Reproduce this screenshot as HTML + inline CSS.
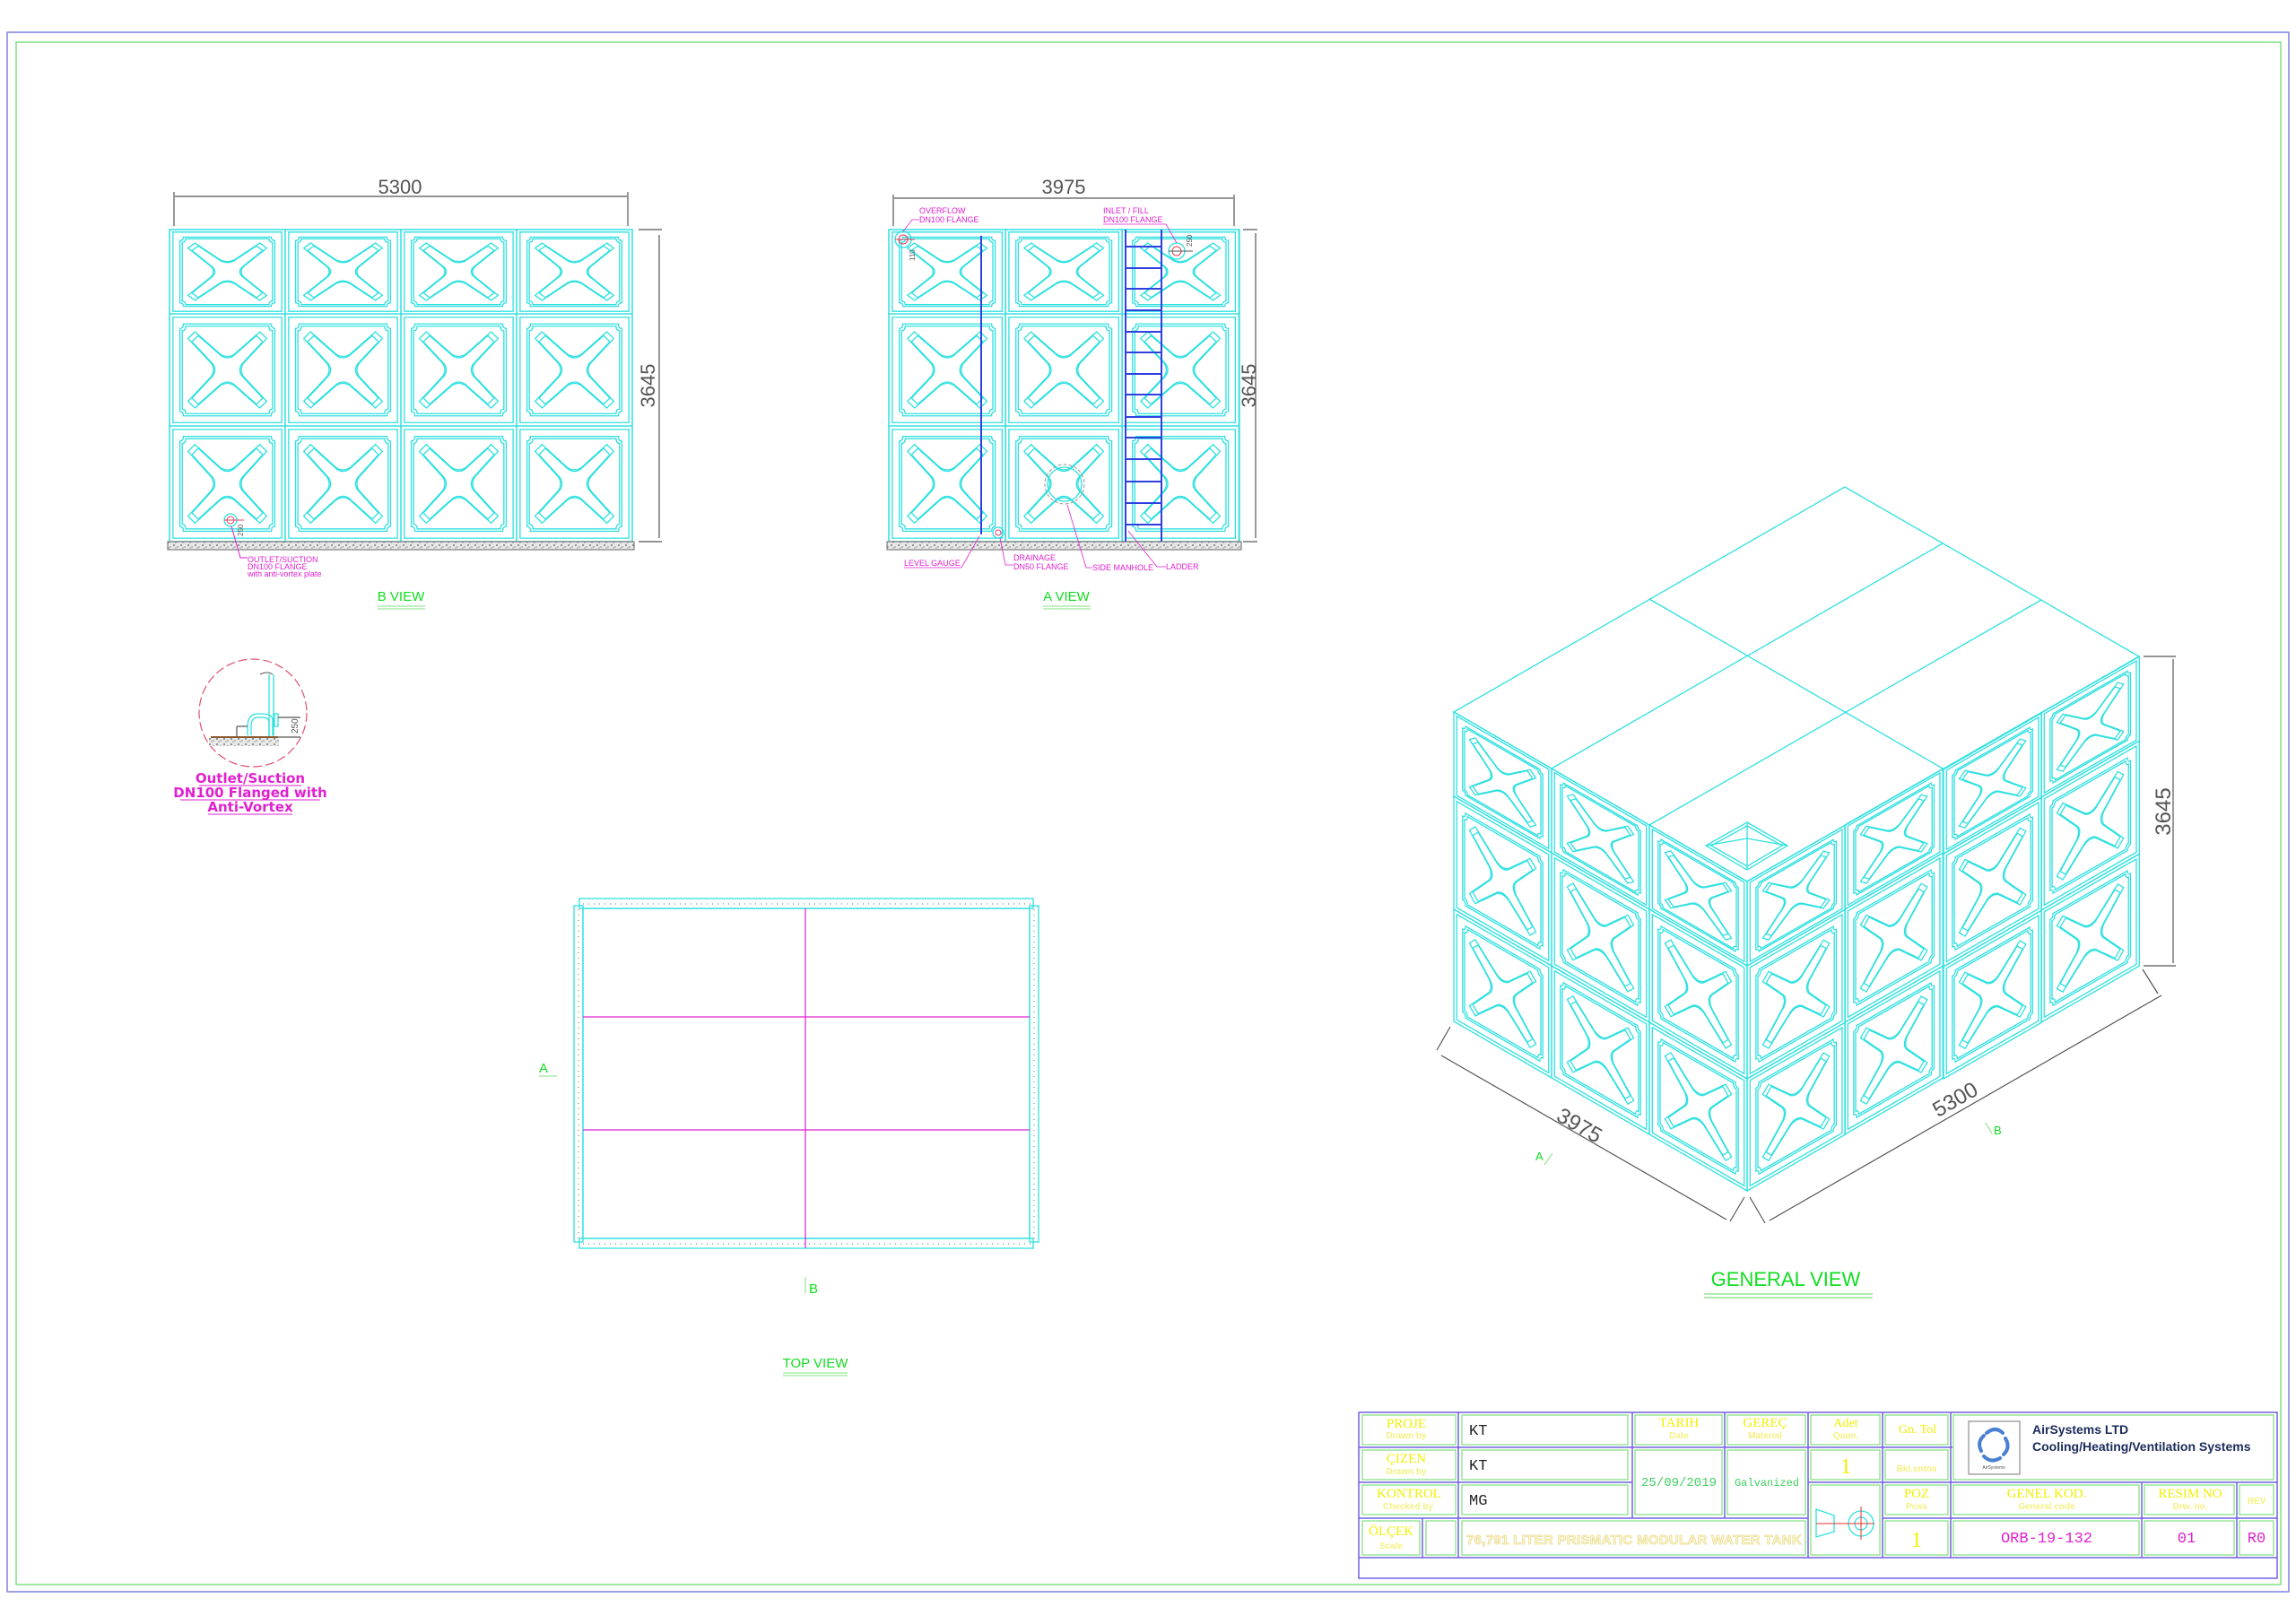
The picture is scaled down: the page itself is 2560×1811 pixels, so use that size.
<!DOCTYPE html>
<html><head><meta charset="utf-8"><style>
html,body{margin:0;padding:0;background:#fff;}
svg{display:block;}
text{font-family:"Liberation Sans",sans-serif;}
.c{fill:none;stroke:#30e0e0;stroke-width:1.3;}
.d{fill:none;stroke:#555;stroke-width:1.2;}
.m{fill:#e020d0;font-size:9px;}
.g{fill:#10dd20;}
.y{fill:#f0f000;font-family:"Liberation Serif",serif;}
.ys{fill:#f4f080;font-family:"Liberation Sans",sans-serif;font-weight:bold;}
.bl{stroke:#7060e0;stroke-width:1.5;fill:none;}
.gr{stroke:#80e080;stroke-width:1.2;fill:none;}
</style></head><body>
<svg width="2560" height="1811" viewBox="0 0 2560 1811" xmlns="http://www.w3.org/2000/svg">
<defs>
<g id="p">
<rect x="0" y="0" width="100" height="100" class="c" vector-effect="non-scaling-stroke"/>
<rect x="3" y="3" width="94" height="94" class="c" vector-effect="non-scaling-stroke"/>
<path d="M12 9 H88 Q88 13 91 13 V87 Q88 87 88 91 H12 Q12 87 9 87 V13 Q12 13 12 9 Z" class="c" vector-effect="non-scaling-stroke"/>
<path d="M14 11 H86 Q86 15 89 15 V85 Q86 85 86 89 H14 Q14 85 11 85 V15 Q14 15 14 11 Z" class="c" vector-effect="non-scaling-stroke"/>
<path d="M16 22 L22 16 L44 36 Q50 40 56 36 L78 16 L84 22 L64 44 Q60 50 64 56 L84 78 L78 84 L56 64 Q50 60 44 64 L22 84 L16 78 L36 56 Q40 50 36 44 Z" class="c" vector-effect="non-scaling-stroke"/>
<path d="M16 22 L22 16 L44 36 Q50 40 56 36 L78 16 L84 22 L64 44 Q60 50 64 56 L84 78 L78 84 L56 64 Q50 60 44 64 L22 84 L16 78 L36 56 Q40 50 36 44 Z" class="c" vector-effect="non-scaling-stroke" transform="translate(50 50) scale(0.9) translate(-50 -50)"/>
</g>
<pattern id="gv" width="8" height="6" patternUnits="userSpaceOnUse">
<rect width="8" height="6" fill="#e8e8e8"/>
<circle cx="2" cy="2" r="0.9" fill="#555"/><circle cx="6" cy="4" r="0.7" fill="#777"/><circle cx="4" cy="5" r="0.5" fill="#333"/>
</pattern>
</defs>

<!-- page borders -->
<rect x="8" y="36" width="2544" height="1739" fill="none" stroke="#8080e0" stroke-width="1.5"/>
<rect x="18" y="47" width="2525" height="1720" fill="none" stroke="#80e080" stroke-width="1.5"/>

<!-- ============ B VIEW ============ -->
<g>
<line x1="195" y1="219" x2="699" y2="219" class="d"/>
<line x1="194" y1="214" x2="194" y2="252" class="d"/>
<line x1="700" y1="214" x2="700" y2="252" class="d"/>
<text x="446" y="216" font-size="22" fill="#555" text-anchor="middle">5300</text>
<line x1="712" y1="256" x2="738" y2="256" class="d"/>
<line x1="712" y1="604" x2="738" y2="604" class="d"/>
<line x1="735" y1="262" x2="735" y2="600" class="d"/>
<text x="0" y="0" font-size="22" fill="#555" text-anchor="middle" transform="translate(730 430) rotate(-90)">3645</text>
<rect x="189" y="256" width="516" height="348" class="c"/>
<use href="#p" transform="matrix(1.29,0,0,0.94,189,256)"/>
<use href="#p" transform="matrix(1.29,0,0,0.94,318,256)"/>
<use href="#p" transform="matrix(1.29,0,0,0.94,447,256)"/>
<use href="#p" transform="matrix(1.29,0,0,0.94,576,256)"/>
<use href="#p" transform="matrix(1.29,0,0,1.25,189,350)"/>
<use href="#p" transform="matrix(1.29,0,0,1.25,318,350)"/>
<use href="#p" transform="matrix(1.29,0,0,1.25,447,350)"/>
<use href="#p" transform="matrix(1.29,0,0,1.25,576,350)"/>
<use href="#p" transform="matrix(1.29,0,0,1.29,189,475)"/>
<use href="#p" transform="matrix(1.29,0,0,1.29,318,475)"/>
<use href="#p" transform="matrix(1.29,0,0,1.29,447,475)"/>
<use href="#p" transform="matrix(1.29,0,0,1.29,576,475)"/>
<rect x="187" y="604" width="520" height="9" fill="url(#gv)" stroke="#666" stroke-width="1"/>
<circle cx="257" cy="580" r="7" class="c"/><circle cx="257" cy="580" r="4" fill="none" stroke="#e04060"/>
<line x1="250" y1="580" x2="272" y2="580" stroke="#e04060"/>
<text x="0" y="0" font-size="8" fill="#555" transform="translate(271 598) rotate(-90)">250</text>
<polyline points="258,587 268,622 276,622" fill="none" stroke="#e020d0" stroke-width="1"/>
<text x="276" y="627" class="m" font-size="7.5">OUTLET/SUCTION</text>
<text x="276" y="635" class="m" font-size="7.5">DN100 FLANGE</text>
<text x="276" y="643" class="m" font-size="7">with anti-vortex plate</text>
<text x="447" y="670" class="g" font-size="15" text-anchor="middle">B VIEW</text>
<line x1="421" y1="676" x2="474" y2="676" stroke="#80e080"/><line x1="421" y1="679" x2="474" y2="679" stroke="#80e080"/>
</g>

<!-- ============ A VIEW ============ -->
<g>
<line x1="997" y1="221" x2="1375" y2="221" class="d"/>
<line x1="996" y1="217" x2="996" y2="252" class="d"/>
<line x1="1376" y1="217" x2="1376" y2="252" class="d"/>
<text x="1186" y="216" font-size="22" fill="#555" text-anchor="middle">3975</text>
<line x1="1386" y1="256" x2="1402" y2="256" class="d"/>
<line x1="1386" y1="604" x2="1402" y2="604" class="d"/>
<line x1="1400" y1="260" x2="1400" y2="600" class="d"/>
<text x="0" y="0" font-size="22" fill="#555" text-anchor="middle" transform="translate(1400 430) rotate(-90)">3645</text>
<rect x="991" y="256" width="391" height="348" class="c"/>
<use href="#p" transform="matrix(1.303,0,0,0.94,991,256)"/>
<use href="#p" transform="matrix(1.303,0,0,0.94,1121,256)"/>
<use href="#p" transform="matrix(1.303,0,0,0.94,1251,256)"/>
<use href="#p" transform="matrix(1.303,0,0,1.25,991,350)"/>
<use href="#p" transform="matrix(1.303,0,0,1.25,1121,350)"/>
<use href="#p" transform="matrix(1.303,0,0,1.25,1251,350)"/>
<use href="#p" transform="matrix(1.303,0,0,1.29,991,475)"/>
<use href="#p" transform="matrix(1.303,0,0,1.29,1121,475)"/>
<use href="#p" transform="matrix(1.303,0,0,1.29,1251,475)"/>
<rect x="989" y="604" width="395" height="9" fill="url(#gv)" stroke="#666" stroke-width="1"/>
<!-- level gauge -->
<line x1="1094" y1="263" x2="1094" y2="596" stroke="#3040e0" stroke-width="2"/>
<!-- ladder -->
<line x1="1255" y1="256" x2="1255" y2="604" stroke="#3040e0" stroke-width="2"/>
<line x1="1295" y1="256" x2="1295" y2="604" stroke="#3040e0" stroke-width="2"/>
<g stroke="#3040e0" stroke-width="2">
<line x1="1255" y1="275" x2="1295" y2="275"/><line x1="1255" y1="299" x2="1295" y2="299"/><line x1="1255" y1="322" x2="1295" y2="322"/><line x1="1255" y1="346" x2="1295" y2="346"/><line x1="1255" y1="370" x2="1295" y2="370"/><line x1="1255" y1="393" x2="1295" y2="393"/><line x1="1255" y1="417" x2="1295" y2="417"/><line x1="1255" y1="440" x2="1295" y2="440"/><line x1="1255" y1="465" x2="1295" y2="465"/><line x1="1255" y1="488" x2="1295" y2="488"/><line x1="1255" y1="512" x2="1295" y2="512"/><line x1="1255" y1="537" x2="1295" y2="537"/><line x1="1255" y1="561" x2="1295" y2="561"/><line x1="1255" y1="585" x2="1295" y2="585"/>
</g>
<circle cx="1007" cy="267" r="9" class="c"/><circle cx="1007" cy="267" r="5" fill="none" stroke="#e04060"/>
<line x1="998" y1="267" x2="1020" y2="267" stroke="#e04060"/>
<circle cx="1312" cy="280" r="9" class="c"/><circle cx="1312" cy="280" r="5" fill="none" stroke="#e04060"/>
<line x1="1303" y1="280" x2="1330" y2="280" stroke="#555"/>
<text x="0" y="0" font-size="8" fill="#555" transform="translate(1329 275) rotate(-90)">250</text>
<text x="0" y="0" font-size="8" fill="#555" transform="translate(1020 291) rotate(-90)">110</text>
<circle cx="1113" cy="594" r="6" class="c"/><circle cx="1113" cy="594" r="3" fill="none" stroke="#e04060"/>
<circle cx="1187" cy="540" r="22" fill="none" stroke="#999" stroke-dasharray="4 2"/>
<circle cx="1187" cy="540" r="19" class="c"/>
<g fill="none" stroke="#e020d0" stroke-width="0.8">
<polyline points="1007,258 1017,245 1025,245"/>
<polyline points="1312,271 1300,250 1230,250"/>
<polyline points="1092,598 1072,633 1008,633"/>
<polyline points="1115,600 1121,630 1130,630"/>
<polyline points="1190,563 1211,633 1218,633"/>
<polyline points="1258,592 1290,632 1300,632"/>
</g>
<text x="1025" y="238" class="m">OVERFLOW</text>
<text x="1025" y="248" class="m">DN100 FLANGE</text>
<text x="1230" y="238" class="m">INLET / FILL</text>
<text x="1230" y="248" class="m">DN100 FLANGE</text>
<text x="1008" y="631" class="m">LEVEL GAUGE</text>
<text x="1130" y="625" class="m">DRAINAGE</text>
<text x="1130" y="635" class="m">DN50 FLANGE</text>
<text x="1218" y="636" class="m">SIDE MANHOLE</text>
<text x="1300" y="635" class="m">LADDER</text>
<text x="1189" y="670" class="g" font-size="15" text-anchor="middle">A VIEW</text>
<line x1="1163" y1="676" x2="1216" y2="676" stroke="#80e080"/><line x1="1163" y1="679" x2="1216" y2="679" stroke="#80e080"/>
</g>

<!-- ============ DETAIL ============ -->
<g>
<circle cx="282" cy="795" r="60" fill="none" stroke="#e05070" stroke-width="1.2" stroke-dasharray="10 4"/>
<path d="M290 752 Q298 748 304 752" fill="none" stroke="#555"/>
<line x1="300" y1="752" x2="300" y2="822" class="c"/><line x1="305" y1="752" x2="305" y2="822" class="c"/>
<path d="M300 820 V806 Q300 800 292 800 H288 Q280 800 280 810 V820" class="c"/>
<path d="M304 820 V803 Q304 796 292 796 H288 Q276 796 276 810 V820" class="c"/>
<rect x="306" y="796" width="4" height="14" class="c"/>
<line x1="310" y1="800" x2="335" y2="800" class="d" stroke-width="0.8"/>
<line x1="310" y1="822" x2="335" y2="822" class="d" stroke-width="0.8"/>
<text x="0" y="0" font-size="10" fill="#555" transform="translate(332 818) rotate(-90)">250</text>
<line x1="264" y1="810" x2="276" y2="810" class="d" stroke-width="0.8"/>
<line x1="264" y1="810" x2="264" y2="822" class="d" stroke-width="0.8"/>
<line x1="235" y1="822" x2="310" y2="822" stroke="#8a5a30" stroke-width="2"/>
<rect x="233" y="823" width="78" height="9" fill="url(#gv)"/>
<g font-weight="bold" font-size="15" fill="#e020d0" text-anchor="middle" font-family="DejaVu Sans, sans-serif">
<text x="279" y="873" style="font-family:'DejaVu Sans',sans-serif">Outlet/Suction</text>
<text x="279" y="889" style="font-family:'DejaVu Sans',sans-serif">DN100 Flanged with</text>
<text x="279" y="905" style="font-family:'DejaVu Sans',sans-serif">Anti-Vortex</text>
</g>
<g stroke="#e020d0" stroke-width="1"><line x1="222" y1="876" x2="336" y2="876"/><line x1="201" y1="892" x2="357" y2="892"/><line x1="232" y1="908" x2="326" y2="908"/></g>
</g>

<!-- ============ TOP VIEW ============ -->
<g>
<rect x="646" y="1002" width="506" height="11" class="c"/>
<rect x="646" y="1381" width="506" height="11" class="c"/>
<rect x="640" y="1010" width="10" height="375" class="c"/>
<rect x="1148" y="1010" width="10" height="375" class="c"/>
<rect x="650" y="1013" width="498" height="368" class="c"/>
<g stroke="#90a0a0" stroke-width="1.4" stroke-dasharray="1 5">
<line x1="650" y1="1008" x2="1150" y2="1008"/><line x1="650" y1="1387" x2="1150" y2="1387"/>
<line x1="645" y1="1014" x2="645" y2="1382"/><line x1="1153" y1="1014" x2="1153" y2="1382"/>
</g>
<line x1="898" y1="1013" x2="898" y2="1392" stroke="#e020d0" stroke-width="1.2"/>
<line x1="650" y1="1134" x2="1148" y2="1134" stroke="#e020d0" stroke-width="1.2"/>
<line x1="650" y1="1260" x2="1148" y2="1260" stroke="#e020d0" stroke-width="1.2"/>
<text x="601" y="1196" class="g" font-size="15">A</text>
<line x1="601" y1="1200" x2="621" y2="1200" stroke="#80e080"/>
<line x1="898" y1="1424" x2="898" y2="1442" stroke="#80e080"/>
<text x="902" y="1442" class="g" font-size="15">B</text>
<text x="909" y="1525" class="g" font-size="15" text-anchor="middle">TOP VIEW</text>
<line x1="873" y1="1531" x2="945" y2="1531" stroke="#80e080"/><line x1="873" y1="1534" x2="945" y2="1534" stroke="#80e080"/>
</g>

<!-- ============ GENERAL VIEW ============ -->
<g>
<polygon points="1621,794 2057,543 2385,732 1948,983" class="c"/>
<line x1="1839" y1="668" x2="2166" y2="857" class="c"/>
<line x1="1730" y1="857" x2="2166" y2="606" class="c"/>
<line x1="1839" y1="920" x2="2276" y2="669" class="c"/>
<!-- left face -->
<use href="#p" transform="matrix(1.09,0.63,0,0.94,1621,794)"/>
<use href="#p" transform="matrix(1.09,0.63,0,0.94,1730,857)"/>
<use href="#p" transform="matrix(1.09,0.63,0,0.94,1839,920)"/>
<use href="#p" transform="matrix(1.09,0.63,0,1.26,1621,888)"/>
<use href="#p" transform="matrix(1.09,0.63,0,1.26,1730,951)"/>
<use href="#p" transform="matrix(1.09,0.63,0,1.26,1839,1014)"/>
<use href="#p" transform="matrix(1.09,0.63,0,1.25,1621,1014)"/>
<use href="#p" transform="matrix(1.09,0.63,0,1.25,1730,1077)"/>
<use href="#p" transform="matrix(1.09,0.63,0,1.25,1839,1140)"/>
<!-- right face -->
<use href="#p" transform="matrix(1.0925,-0.6275,0,0.94,1948,983)"/>
<use href="#p" transform="matrix(1.0925,-0.6275,0,0.94,2057,920)"/>
<use href="#p" transform="matrix(1.0925,-0.6275,0,0.94,2167,858)"/>
<use href="#p" transform="matrix(1.0925,-0.6275,0,0.94,2276,795)"/>
<use href="#p" transform="matrix(1.0925,-0.6275,0,1.26,1948,1077)"/>
<use href="#p" transform="matrix(1.0925,-0.6275,0,1.26,2057,1014)"/>
<use href="#p" transform="matrix(1.0925,-0.6275,0,1.26,2167,952)"/>
<use href="#p" transform="matrix(1.0925,-0.6275,0,1.26,2276,889)"/>
<use href="#p" transform="matrix(1.0925,-0.6275,0,1.25,1948,1203)"/>
<use href="#p" transform="matrix(1.0925,-0.6275,0,1.25,2057,1140)"/>
<use href="#p" transform="matrix(1.0925,-0.6275,0,1.25,2167,1078)"/>
<use href="#p" transform="matrix(1.0925,-0.6275,0,1.25,2276,1015)"/>
<!-- top manhole -->
<polygon points="1948,917 1993,943 1948,970 1902,943" class="c"/>
<polygon points="1948,921 1987,943 1948,966 1908,943" class="c"/>
<line x1="1948" y1="917" x2="1948" y2="970" class="c" stroke-width="0.8"/>
<line x1="1902" y1="943" x2="1948" y2="935" class="c" stroke-width="0.8"/>
<line x1="1993" y1="943" x2="1948" y2="935" class="c" stroke-width="0.8"/>
<!-- dims -->
<line x1="2390" y1="732" x2="2426" y2="732" class="d"/>
<line x1="2390" y1="1077" x2="2426" y2="1077" class="d"/>
<line x1="2423" y1="735" x2="2423" y2="1074" class="d"/>
<text x="0" y="0" font-size="24" fill="#555" text-anchor="middle" transform="translate(2420 905) rotate(-90)">3645</text>
<line x1="1617" y1="1145" x2="1602" y2="1171" class="d"/>
<line x1="1607" y1="1177" x2="1925" y2="1360" class="d"/>
<line x1="1945" y1="1335" x2="1929" y2="1362" class="d"/>
<text x="0" y="0" font-size="24" fill="#555" text-anchor="middle" transform="translate(1757 1262) rotate(30)">3975</text>
<line x1="1951" y1="1335" x2="1968" y2="1364" class="d"/>
<line x1="1973" y1="1361" x2="2410" y2="1110" class="d"/>
<line x1="2389" y1="1081" x2="2406" y2="1108" class="d"/>
<text x="0" y="0" font-size="24" fill="#555" text-anchor="middle" transform="translate(2184 1233) rotate(-30)">5300</text>
<text x="1712" y="1294" class="g" font-size="13">A</text>
<line x1="1722" y1="1299" x2="1731" y2="1286" stroke="#80e080"/>
<line x1="2214" y1="1252" x2="2221" y2="1264" stroke="#80e080"/>
<text x="2223" y="1265" class="g" font-size="13">B</text>
<text x="1991" y="1434" class="g" font-size="22" text-anchor="middle">GENERAL VIEW</text>
<line x1="1900" y1="1443" x2="2088" y2="1443" stroke="#80e080" stroke-width="1.3"/><line x1="1900" y1="1447" x2="2088" y2="1447" stroke="#80e080" stroke-width="1.3"/>
</g>

<!-- ============ TITLE BLOCK ============ -->
<g>
<rect x="1515" y="1575" width="1024" height="185" class="bl"/>
<!-- inner green cells -->
<g class="gr">
<rect x="1519" y="1578" width="104" height="33"/><rect x="1630" y="1578" width="185" height="33"/><rect x="1823" y="1578" width="97" height="33"/><rect x="1926" y="1578" width="87" height="33"/><rect x="2019" y="1578" width="77" height="33"/><rect x="2102" y="1578" width="70" height="33"/>
<rect x="2178" y="1578" width="357" height="72"/>
<rect x="1519" y="1617" width="104" height="33"/><rect x="1630" y="1617" width="185" height="33"/><rect x="1823" y="1617" width="97" height="72"/><rect x="1926" y="1617" width="87" height="72"/><rect x="2019" y="1617" width="77" height="33"/><rect x="2102" y="1617" width="70" height="33"/>
<rect x="1519" y="1656" width="104" height="33"/><rect x="1630" y="1656" width="185" height="33"/><rect x="2019" y="1656" width="77" height="78"/><rect x="2102" y="1656" width="70" height="33"/><rect x="2178" y="1656" width="207" height="33"/><rect x="2391" y="1656" width="100" height="33"/><rect x="2497" y="1656" width="38" height="33"/>
<rect x="1519" y="1696" width="64" height="38"/><rect x="1590" y="1696" width="33" height="38"/><rect x="1630" y="1696" width="383" height="38"/><rect x="2102" y="1696" width="70" height="38"/><rect x="2178" y="1696" width="207" height="38"/><rect x="2391" y="1696" width="100" height="38"/><rect x="2497" y="1696" width="38" height="38"/>
</g>
<!-- blue grid -->
<g class="bl">
<line x1="1515" y1="1614" x2="2177" y2="1614"/>
<line x1="1515" y1="1653" x2="1820" y2="1653"/>
<line x1="2016" y1="1653" x2="2539" y2="1653"/>
<line x1="1515" y1="1693" x2="2016" y2="1693"/>
<line x1="2099" y1="1693" x2="2539" y2="1693"/>
<line x1="1515" y1="1737" x2="2539" y2="1737"/>
<line x1="1626" y1="1575" x2="1626" y2="1737"/>
<line x1="1586" y1="1693" x2="1586" y2="1737"/>
<line x1="1820" y1="1575" x2="1820" y2="1693"/>
<line x1="1923" y1="1575" x2="1923" y2="1693"/>
<line x1="2016" y1="1575" x2="2016" y2="1737"/>
<line x1="2099" y1="1575" x2="2099" y2="1737"/>
<line x1="2175" y1="1575" x2="2175" y2="1737"/>
<line x1="2388" y1="1653" x2="2388" y2="1737"/>
<line x1="2494" y1="1653" x2="2494" y2="1737"/>
</g>
<!-- labels -->
<g text-anchor="middle">
<text x="1568" y="1592" class="y" font-size="15">PROJE</text><text x="1568" y="1604" class="ys" font-size="10">Drawn by</text>
<text x="1568" y="1631" class="y" font-size="15">ÇIZEN</text><text x="1568" y="1644" class="ys" font-size="10">Drawn by</text>
<text x="1571" y="1670" class="y" font-size="15">KONTROL</text><text x="1570" y="1683" class="ys" font-size="10">Checked by</text>
<text x="1551" y="1712" class="y" font-size="15">ÖLÇEK</text><text x="1551" y="1727" class="ys" font-size="10">Scale</text>
<text x="1872" y="1591" class="y" font-size="15">TARIH</text><text x="1872" y="1604" class="ys" font-size="10">Date</text>
<text x="1968" y="1591" class="y" font-size="15">GEREÇ</text><text x="1968" y="1604" class="ys" font-size="10">Material</text>
<text x="2058" y="1591" class="y" font-size="14">Adet</text><text x="2058" y="1604" class="ys" font-size="10">Quan.</text>
<text x="2138" y="1598" class="y" font-size="14">Gn. Tol</text>
<text x="2137" y="1641" class="ys" font-size="10">Bkl.sntos</text>
<text x="2058" y="1643" class="y" font-size="24">1</text>
<text x="2137" y="1670" class="y" font-size="15">POZ</text><text x="2137" y="1683" class="ys" font-size="10">Poss</text>
<text x="2282" y="1670" class="y" font-size="15">GENEL  KOD.</text><text x="2282" y="1683" class="ys" font-size="10">General  code</text>
<text x="2442" y="1670" class="y" font-size="15">RESIM NO</text><text x="2442" y="1683" class="ys" font-size="10">Drw. no.</text>
<text x="2516" y="1677" class="ys" font-size="10">REV</text>
<text x="2137" y="1725" class="y" font-size="24">1</text>
<text x="1822" y="1722" class="ys" font-size="15" fill="none" stroke="#e8dc90" stroke-width="0.8" style="fill:#fff8d8;letter-spacing:0.3px">76,791 LITER PRISMATIC MODULAR WATER TANK</text>
<text x="1872" y="1657" font-size="14" fill="#40d060" font-family="Liberation Mono, monospace" style="font-family:'Liberation Mono',monospace">25/09/2019</text>
<text x="1970" y="1657" font-size="12" fill="#40d060" style="font-family:'Liberation Mono',monospace">Galvanized</text>
<text x="2282" y="1720" font-size="17" fill="#e020d0" style="font-family:'Liberation Mono',monospace">ORB-19-132</text>
<text x="2438" y="1720" font-size="17" fill="#e020d0" style="font-family:'Liberation Mono',monospace">01</text>
<text x="2516" y="1720" font-size="17" fill="#e020d0" style="font-family:'Liberation Mono',monospace">R0</text>
</g>
<g font-size="17" fill="#222" style="font-family:'Liberation Mono',monospace">
<text x="1638" y="1600" style="font-family:'Liberation Mono',monospace">KT</text>
<text x="1638" y="1639" style="font-family:'Liberation Mono',monospace">KT</text>
<text x="1638" y="1678" style="font-family:'Liberation Mono',monospace">MG</text>
</g>
<!-- projection symbol -->
<polygon points="2025,1683 2045,1690 2045,1708 2025,1714" class="c" stroke-width="1"/>
<circle cx="2075" cy="1699" r="14" class="c" stroke-width="1"/>
<circle cx="2075" cy="1699" r="7" class="c" stroke-width="1"/>
<line x1="2025" y1="1699" x2="2090" y2="1699" stroke="#e03030"/>
<line x1="2075" y1="1680" x2="2075" y2="1717" stroke="#e03030"/>
<!-- logo -->
<rect x="2195" y="1585" width="57" height="59" fill="#fff" stroke="#777"/>
<g fill="none" stroke="#4a80d0" stroke-width="4" stroke-linecap="round">
<path d="M2215 1598 Q2225 1590 2233 1598"/>
<path d="M2236 1604 Q2242 1614 2234 1622"/>
<path d="M2230 1626 Q2220 1632 2212 1624"/>
<path d="M2209 1618 Q2204 1608 2212 1601"/>
</g>
<text x="2223" y="1638" font-size="5" fill="#555" text-anchor="middle">AirSystems</text>
<text x="2266" y="1599" font-size="14" font-weight="bold" fill="#1a2a5a">AirSystems LTD</text>
<text x="2266" y="1618" font-size="14" font-weight="bold" fill="#1a2a5a">Cooling/Heating/Ventilation Systems</text>
</g>
</svg>
</body></html>
